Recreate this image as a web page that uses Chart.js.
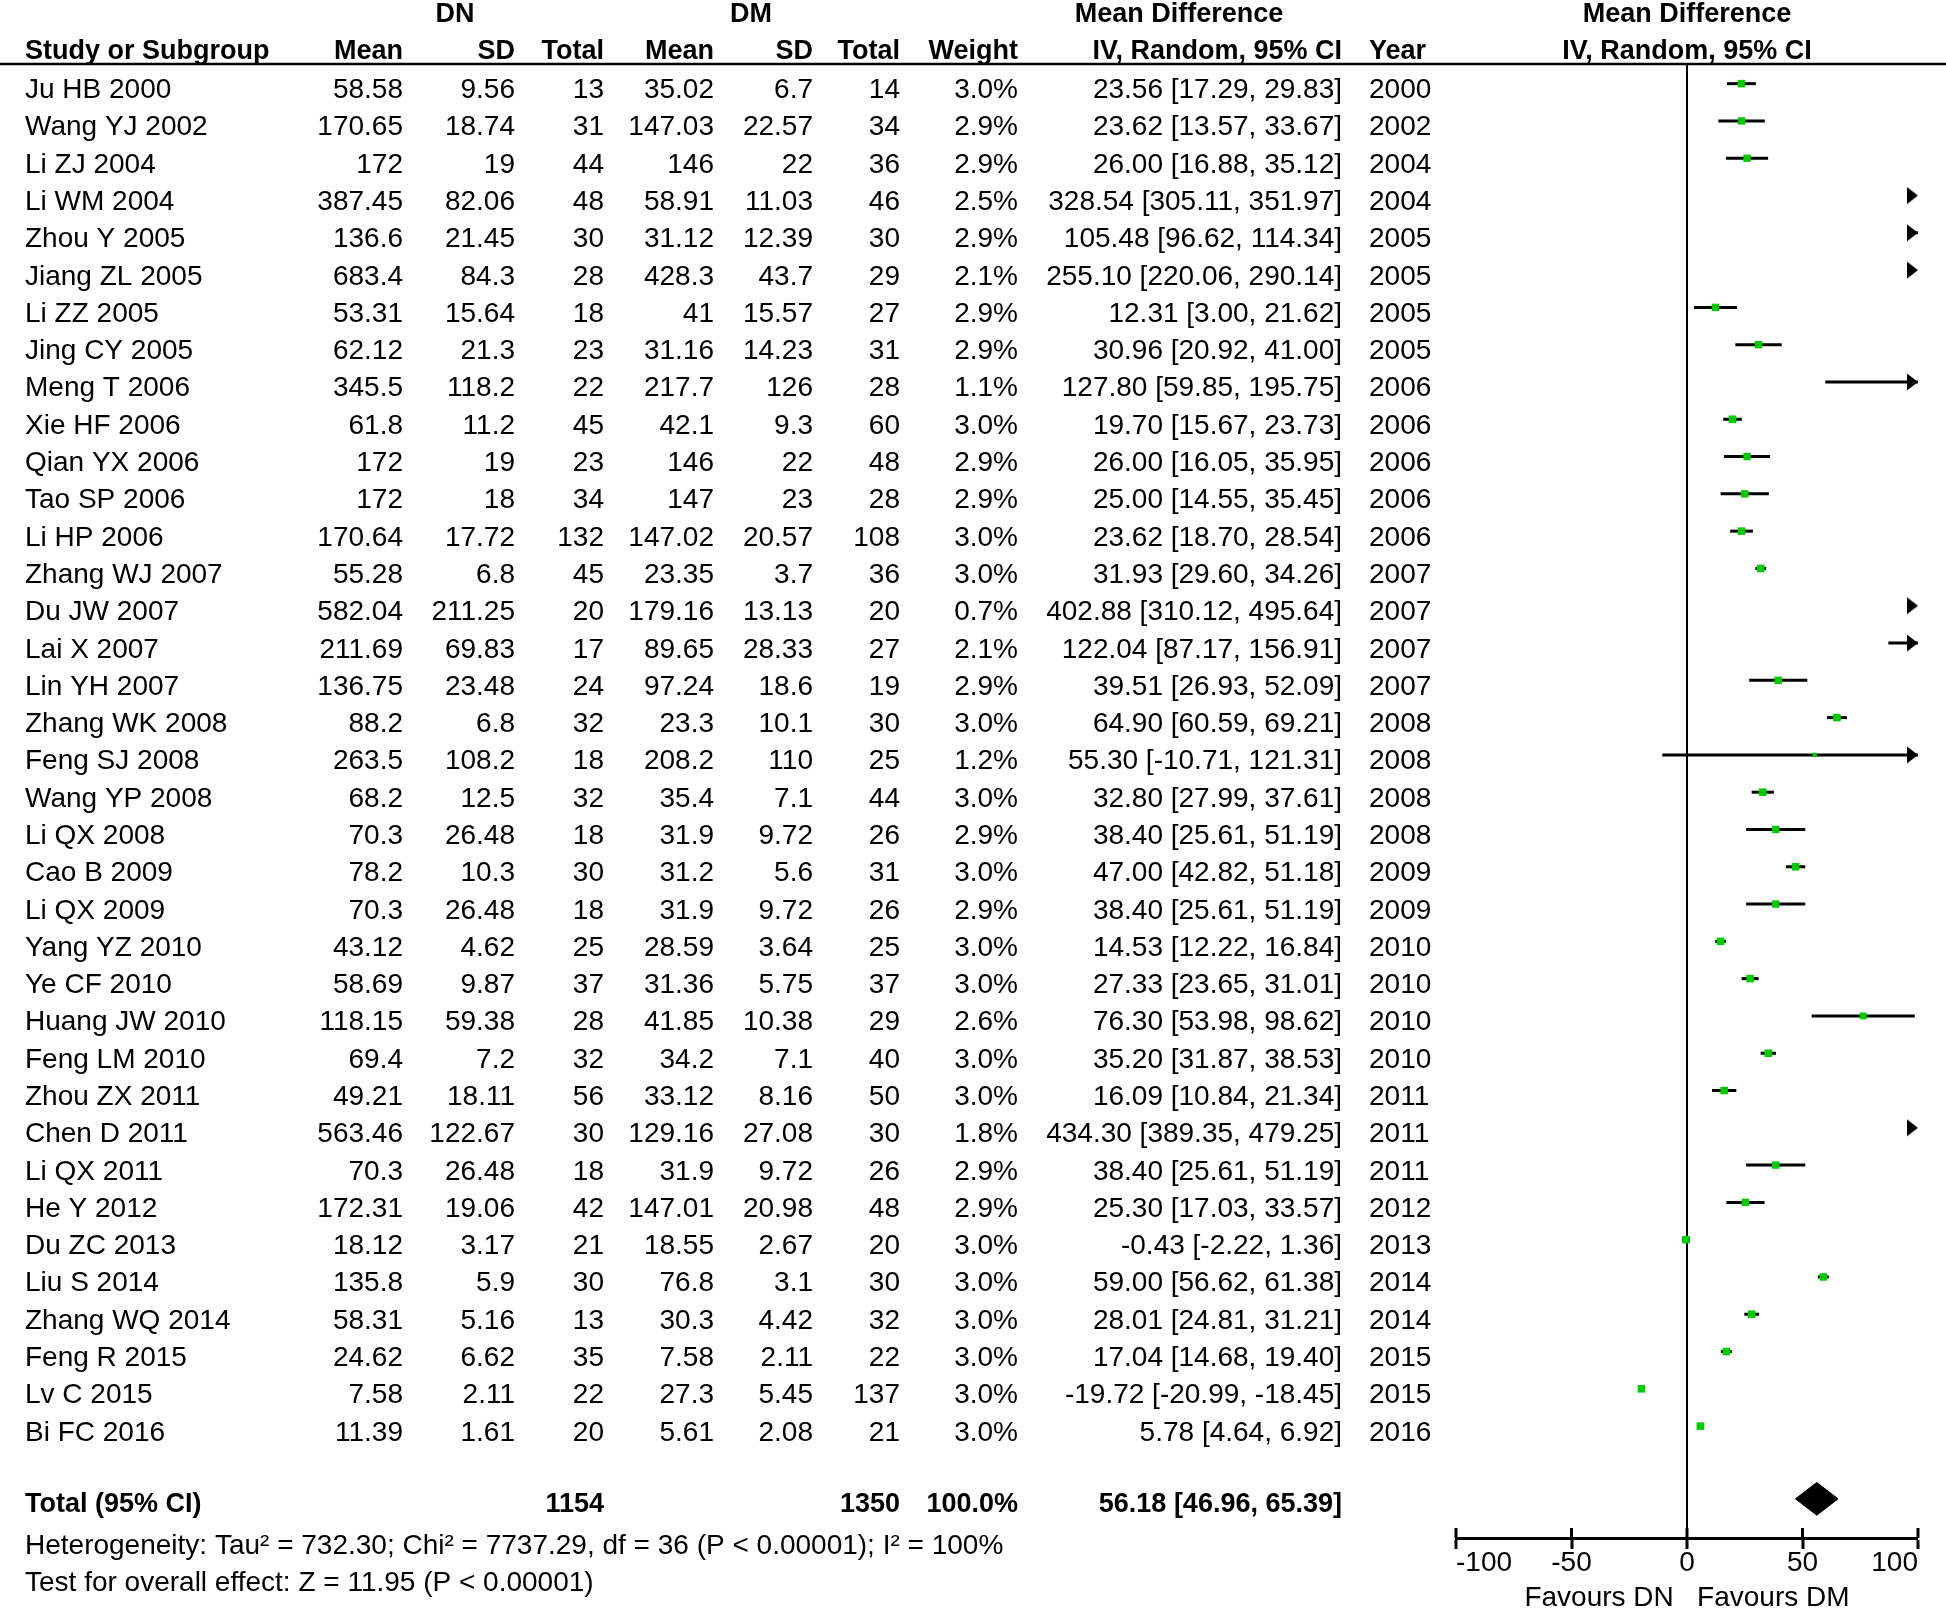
<!DOCTYPE html>
<html>
<head>
<meta charset="utf-8">
<title>DN vs DM forest plot</title>
<script src="https://cdn.jsdelivr.net/npm/chart.js@4.4.1/dist/chart.umd.min.js"></script>
<style>
  html, body { margin: 0; padding: 0; background: #fff; }
  #wrap { width: 1946px; height: 1610px; }
</style>
</head>
<body>
<div id="wrap"><canvas id="forest" width="1946" height="1610"></canvas></div>
<script>
// --- data ---
const studies = ["Ju HB 2000", "Wang YJ 2002", "Li ZJ 2004", "Li WM 2004", "Zhou Y 2005", "Jiang ZL 2005",
  "Li ZZ 2005", "Jing CY 2005", "Meng T 2006", "Xie HF 2006", "Qian YX 2006", "Tao SP 2006", "Li HP 2006",
  "Zhang WJ 2007", "Du JW 2007", "Lai X 2007", "Lin YH 2007", "Zhang WK 2008", "Feng SJ 2008", "Wang YP 2008",
  "Li QX 2008", "Cao B 2009", "Li QX 2009", "Yang YZ 2010", "Ye CF 2010", "Huang JW 2010", "Feng LM 2010",
  "Zhou ZX 2011", "Chen D 2011", "Li QX 2011", "He Y 2012", "Du ZC 2013", "Liu S 2014", "Zhang WQ 2014",
  "Feng R 2015", "Lv C 2015", "Bi FC 2016"];
const dnMean = [58.58, 170.65, 172, 387.45, 136.6, 683.4, 53.31, 62.12, 345.5, 61.8, 172, 172, 170.64, 55.28,
  582.04, 211.69, 136.75, 88.2, 263.5, 68.2, 70.3, 78.2, 70.3, 43.12, 58.69, 118.15, 69.4, 49.21, 563.46, 70.3,
  172.31, 18.12, 135.8, 58.31, 24.62, 7.58, 11.39];
const dnSD = [9.56, 18.74, 19, 82.06, 21.45, 84.3, 15.64, 21.3, 118.2, 11.2, 19, 18, 17.72, 6.8, 211.25, 69.83,
  23.48, 6.8, 108.2, 12.5, 26.48, 10.3, 26.48, 4.62, 9.87, 59.38, 7.2, 18.11, 122.67, 26.48, 19.06, 3.17, 5.9,
  5.16, 6.62, 2.11, 1.61];
const dnTotal = [13, 31, 44, 48, 30, 28, 18, 23, 22, 45, 23, 34, 132, 45, 20, 17, 24, 32, 18, 32, 18, 30, 18, 25,
  37, 28, 32, 56, 30, 18, 42, 21, 30, 13, 35, 22, 20];
const dmMean = [35.02, 147.03, 146, 58.91, 31.12, 428.3, 41, 31.16, 217.7, 42.1, 146, 147, 147.02, 23.35, 179.16,
  89.65, 97.24, 23.3, 208.2, 35.4, 31.9, 31.2, 31.9, 28.59, 31.36, 41.85, 34.2, 33.12, 129.16, 31.9, 147.01,
  18.55, 76.8, 30.3, 7.58, 27.3, 5.61];
const dmSD = [6.7, 22.57, 22, 11.03, 12.39, 43.7, 15.57, 14.23, 126, 9.3, 22, 23, 20.57, 3.7, 13.13, 28.33, 18.6,
  10.1, 110, 7.1, 9.72, 5.6, 9.72, 3.64, 5.75, 10.38, 7.1, 8.16, 27.08, 9.72, 20.98, 2.67, 3.1, 4.42, 2.11, 5.45,
  2.08];
const dmTotal = [14, 34, 36, 46, 30, 29, 27, 31, 28, 60, 48, 28, 108, 36, 20, 27, 19, 30, 25, 44, 26, 31, 26, 25,
  37, 29, 40, 50, 30, 26, 48, 20, 30, 32, 22, 137, 21];
const weight = [3.0, 2.9, 2.9, 2.5, 2.9, 2.1, 2.9, 2.9, 1.1, 3.0, 2.9, 2.9, 3.0, 3.0, 0.7, 2.1, 2.9, 3.0, 1.2, 3.0,
  2.9, 3.0, 2.9, 3.0, 3.0, 2.6, 3.0, 3.0, 1.8, 2.9, 2.9, 3.0, 3.0, 3.0, 3.0, 3.0, 3.0];
const md = [23.56, 23.62, 26.00, 328.54, 105.48, 255.10, 12.31, 30.96, 127.80, 19.70, 26.00, 25.00, 23.62, 31.93,
  402.88, 122.04, 39.51, 64.90, 55.30, 32.80, 38.40, 47.00, 38.40, 14.53, 27.33, 76.30, 35.20, 16.09, 434.30,
  38.40, 25.30, -0.43, 59.00, 28.01, 17.04, -19.72, 5.78];
const ciLow = [17.29, 13.57, 16.88, 305.11, 96.62, 220.06, 3.00, 20.92, 59.85, 15.67, 16.05, 14.55, 18.70, 29.60,
  310.12, 87.17, 26.93, 60.59, -10.71, 27.99, 25.61, 42.82, 25.61, 12.22, 23.65, 53.98, 31.87, 10.84, 389.35,
  25.61, 17.03, -2.22, 56.62, 24.81, 14.68, -20.99, 4.64];
const ciHigh = [29.83, 33.67, 35.12, 351.97, 114.34, 290.14, 21.62, 41.00, 195.75, 23.73, 35.95, 35.45, 28.54,
  34.26, 495.64, 156.91, 52.09, 69.21, 121.31, 37.61, 51.19, 51.18, 51.19, 16.84, 31.01, 98.62, 38.53, 21.34,
  479.25, 51.19, 33.57, 1.36, 61.38, 31.21, 19.40, -18.45, 6.92];
const years = [2000, 2002, 2004, 2004, 2005, 2005, 2005, 2005, 2006, 2006, 2006, 2006, 2006, 2007, 2007, 2007,
  2007, 2008, 2008, 2008, 2008, 2009, 2009, 2010, 2010, 2010, 2010, 2011, 2011, 2011, 2012, 2013, 2014, 2014,
  2015, 2015, 2016];

const totalDN = 1154;
const totalDM = 1350;
const totalWeight = "100.0%";
const pooled = [56.18, 46.96, 65.39]; // estimate, lower, upper
const heterogeneity = "Heterogeneity: Tau\u00b2 = 732.30; Chi\u00b2 = 7737.29, df = 36 (P < 0.00001); I\u00b2 = 100%";
const overallEffect = "Test for overall effect: Z = 11.95 (P < 0.00001)";
const xTicks = [-100, -50, 0, 50, 100];
const xMin = -100, xMax = 100;
const totalRow = 37.95;

const FONT = '"Liberation Sans", Arial, sans-serif';
const GREEN = "#00cc00";

// arrow head used where a CI runs past the axis
function makeArrow() {
  const c = document.createElement("canvas");
  c.width = 24; c.height = 18;
  const g = c.getContext("2d");
  g.fillStyle = "#000";
  g.beginPath();
  g.moveTo(1, 0.5); g.lineTo(12, 9); g.lineTo(1, 17.5);
  g.closePath(); g.fill();
  return c;
}

const fmt2 = v => v.toFixed(2);
const ciText = i => `${fmt2(md[i])} [${fmt2(ciLow[i])}, ${fmt2(ciHigh[i])}]`;

// table columns: x in px, alignment
const cols = [
  { head: "Study or Subgroup", x: 25, align: "left", val: i => studies[i] },
  { head: "Mean", x: 403, align: "right", val: i => String(dnMean[i]) },
  { head: "SD", x: 515, align: "right", val: i => String(dnSD[i]) },
  { head: "Total", x: 604, align: "right", val: i => String(dnTotal[i]) },
  { head: "Mean", x: 714, align: "right", val: i => String(dmMean[i]) },
  { head: "SD", x: 813, align: "right", val: i => String(dmSD[i]) },
  { head: "Total", x: 900, align: "right", val: i => String(dmTotal[i]) },
  { head: "Weight", x: 1018, align: "right", val: i => weight[i].toFixed(1) + "%" },
  { head: "IV, Random, 95% CI", x: 1342, align: "right", val: i => ciText(i) },
  { head: "Year", x: 1369, align: "left", val: i => String(years[i]) }
];

const TEXT_DY = 14.5; // baseline offset below the row's mark line

const tablePlugin = {
  id: "table",
  afterDraw(chart) {
    const ctx = chart.ctx;
    const ys = chart.scales.y;
    const xs = chart.scales.x;
    const area = chart.chartArea;
    ctx.save();
    ctx.fillStyle = "#000";
    ctx.textBaseline = "alphabetic";

    // header rows
    ctx.font = "700 27px " + FONT;
    ctx.textAlign = "center";
    ctx.fillText("DN", 455, 22);
    ctx.fillText("DM", 751, 22);
    ctx.fillText("Mean Difference", 1179, 22);
    ctx.fillText("Mean Difference", xs.getPixelForValue(0), 22);
    ctx.fillText("IV, Random, 95% CI", xs.getPixelForValue(0), 59);
    cols.forEach(c => {
      ctx.textAlign = c.align;
      ctx.fillText(c.head, c.x, 59);
    });

    // header rule
    ctx.strokeStyle = "#000";
    ctx.lineWidth = 2.5;
    ctx.beginPath();
    ctx.moveTo(0, area.top - 1);
    ctx.lineTo(chart.width, area.top - 1);
    ctx.stroke();

    // study rows
    ctx.font = "28px " + FONT;
    studies.forEach((s, i) => {
      const y = ys.getPixelForValue(i) + TEXT_DY;
      cols.forEach(c => {
        ctx.textAlign = c.align;
        ctx.fillText(c.val(i), c.x, y);
      });
    });

    // total row
    const ty = ys.getPixelForValue(totalRow) + TEXT_DY - 1;
    ctx.font = "700 27px " + FONT;
    ctx.textAlign = "left";
    ctx.fillText("Total (95% CI)", cols[0].x, ty);
    ctx.textAlign = "right";
    ctx.fillText(String(totalDN), cols[3].x, ty);
    ctx.fillText(String(totalDM), cols[6].x, ty);
    ctx.fillText(totalWeight, cols[7].x, ty);
    ctx.fillText(`${fmt2(pooled[0])} [${fmt2(pooled[1])}, ${fmt2(pooled[2])}]`, cols[8].x, ty);

    ctx.font = "28px " + FONT;
    ctx.textAlign = "left";
    ctx.fillText(heterogeneity, 25, ys.getPixelForValue(totalRow + 1.08) + TEXT_DY);
    ctx.fillText(overallEffect, 25, ys.getPixelForValue(totalRow + 2.07) + TEXT_DY);

    // upper half of the axis tick marks
    ctx.lineWidth = 3;
    xs.ticks.forEach(t => {
      const px = xs.getPixelForValue(t.value);
      ctx.beginPath();
      ctx.moveTo(px, area.bottom - 10);
      ctx.lineTo(px, area.bottom);
      ctx.stroke();
    });
    ctx.restore();
  }
};

const rows = studies.map((s, i) => i);
const ciSets = rows.map(i => ({
  type: "scatter",
  showLine: true,
  data: [{ x: ciLow[i], y: i }, { x: ciHigh[i], y: i }],
  borderColor: "#000",
  borderWidth: 3,
  borderCapStyle: "butt",
  pointRadius: 0,
  clip: 0,
  order: 3
}));

const pointSet = {
  type: "scatter",
  data: rows.map(i => ({ x: md[i], y: i })),
  pointStyle: "rect",
  pointRadius: weight.map(w => 1.6 + w * 1.25),
  backgroundColor: GREEN,
  borderWidth: 0,
  clip: 0,
  order: 1
};

const arrowImg = makeArrow();
const arrowSet = {
  type: "scatter",
  data: rows.filter(i => ciHigh[i] > xMax).map(i => ({ x: xMax, y: i })),
  pointStyle: arrowImg,
  pointRadius: 9,
  clip: false,
  order: 2
};

const dh = 0.44;
const diamondSet = {
  type: "scatter",
  showLine: true,
  data: [
    { x: pooled[1], y: totalRow }, { x: pooled[0], y: totalRow - dh },
    { x: pooled[2], y: totalRow }, { x: pooled[0], y: totalRow + dh },
    { x: pooled[1], y: totalRow }
  ],
  borderColor: "#000",
  borderWidth: 1,
  backgroundColor: "#000",
  fill: "shape",
  pointRadius: 0,
  order: 2
};

const chart = new Chart(document.getElementById("forest").getContext("2d"), {
  type: "scatter",
  data: { datasets: [pointSet, arrowSet, diamondSet, ...ciSets] },
  options: {
    responsive: false,
    animation: false,
    events: [],
    layout: { padding: { left: 1456, right: 28, top: 65, bottom: 0 } },
    plugins: { legend: { display: false }, tooltip: { enabled: false } },
    scales: {
      x: {
        type: "linear",
        min: xMin,
        max: xMax,
        afterBuildTicks: s => { s.ticks = xTicks.map(v => ({ value: v })); },
        afterFit: s => { s.height = 72; },
        ticks: { align: "inner", padding: -3, color: "#000", maxRotation: 0, autoSkip: false,
                 font: { family: FONT, size: 28, lineHeight: 1.2 } },
        grid: {
          drawOnChartArea: true,
          color: c => (c.tick && c.tick.value === 0 ? "#000" : "rgba(0,0,0,0)"),
          lineWidth: c => (c.tick && c.tick.value === 0 ? 2 : 0),
          tickColor: "#000",
          tickLength: 11,
          tickWidth: 3
        },
        border: { display: true, color: "#000", width: 3 },
        title: { display: true, text: "Favours DN   Favours DM", color: "#000", padding: { top: 0, bottom: -2 },
                 font: { family: FONT, size: 28, lineHeight: 1 } }
      },
      y: { type: "linear", min: -0.5, max: 39, reverse: true, display: false }
    }
  },
  plugins: [tablePlugin]
});
</script>
</body>
</html>
